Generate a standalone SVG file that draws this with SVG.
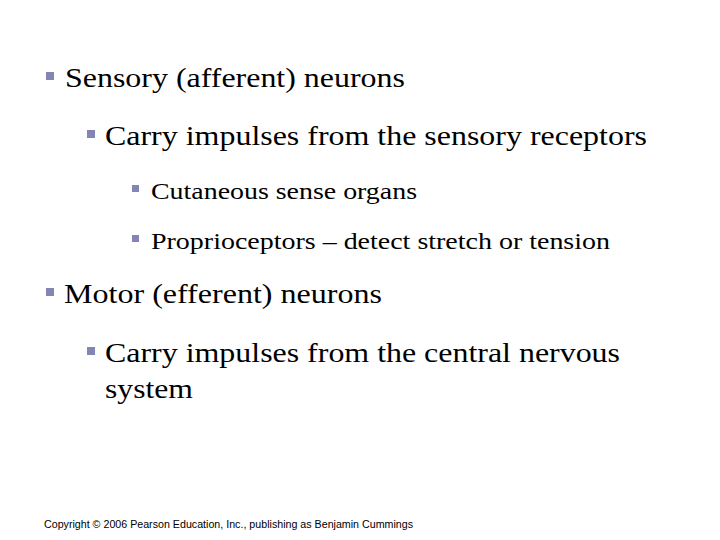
<svg xmlns="http://www.w3.org/2000/svg" width="720" height="540" viewBox="0 0 720 540">
<style>
.t{font-family:"Liberation Serif",serif;fill:#000}
.l1{font-size:27px}.l3{font-size:23px}
.b{fill:#8585b5}
</style>
<rect width="720" height="540" fill="#fff"/>
<g id="item1"><rect class="b" x="46" y="72" width="8" height="8"/><text class="t l1" x="65" y="87" textLength="340" lengthAdjust="spacingAndGlyphs">Sensory (afferent) neurons</text></g>
<g id="item2"><rect class="b" x="87" y="130" width="8" height="8"/><text class="t l1" x="105" y="145" textLength="542" lengthAdjust="spacingAndGlyphs">Carry impulses from the sensory receptors</text></g>
<g id="item3"><rect class="b" x="132" y="185" width="7" height="7"/><text class="t l3" x="151" y="199" textLength="266" lengthAdjust="spacingAndGlyphs">Cutaneous sense organs</text></g>
<g id="item4"><rect class="b" x="132" y="235" width="7" height="7"/><text class="t l3" x="151" y="249" textLength="459" lengthAdjust="spacingAndGlyphs">Proprioceptors – detect stretch or tension</text></g>
<g id="item5"><rect class="b" x="46" y="288" width="8" height="8"/><text class="t l1" x="64" y="303" textLength="318" lengthAdjust="spacingAndGlyphs">Motor (efferent) neurons</text></g>
<g id="item6"><rect class="b" x="87" y="347" width="8" height="8"/><text class="t l1" x="105" y="362" textLength="515" lengthAdjust="spacingAndGlyphs">Carry impulses from the central nervous</text><text class="t l1" x="105" y="398" textLength="88" lengthAdjust="spacingAndGlyphs">system</text></g>
<g id="connectors"/>
<text x="44" y="528" textLength="369" lengthAdjust="spacingAndGlyphs" style="font-family:'Liberation Sans',sans-serif;font-size:10px">Copyright © 2006 Pearson Education, Inc., publishing as Benjamin Cummings</text>
</svg>
